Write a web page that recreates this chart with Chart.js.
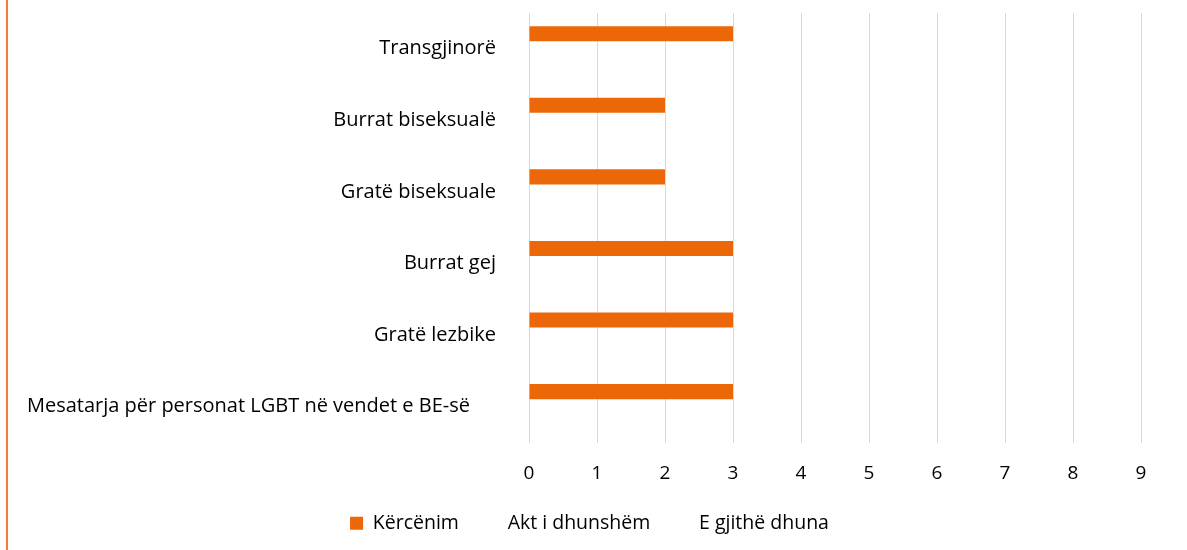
<!DOCTYPE html>
<html>
<head>
<meta charset="utf-8">
<script src="https://cdn.jsdelivr.net/npm/chart.js@4.4.0/dist/chart.umd.min.js"></script>
<style>
  html, body { margin: 0; padding: 0; background: #ffffff; }
  #wrap { position: relative; width: 1187px; height: 550px; }
  #edge { position: absolute; left: 6px; top: 0; width: 2px; height: 550px; background: #F27B3B; }
  canvas { position: absolute; left: 0; top: 0; }
</style>
</head>
<body>
<div id="wrap">
  <canvas id="c" width="1187" height="550"></canvas>
  <div id="edge"></div>
</div>
<script>
const categories = [
  "Transgjinorë",
  "Burrat biseksualë",
  "Gratë biseksuale",
  "Burrat gej",
  "Gratë lezbike",
  "Mesatarja për personat LGBT në vendet e BE-së"
];
const seriesNames = ["Kërcënim", "Akt i dhunshëm", "E gjithë dhuna"];
const kercenim = [3, 2, 2, 3, 3, 3];
const aktDhunshem = [null, null, null, null, null, null];
const gjitheDhuna = [null, null, null, null, null, null];
const xTicks = [0, 1, 2, 3, 4, 5, 6, 7, 8, 9];

const FONT = "'Open Sans', 'Noto Sans', sans-serif";
const TEXT = '#000000';
const longest = categories.reduce((a, c, i) => c.length > categories[a].length ? i : a, 0);

new Chart(document.getElementById('c'), {
  type: 'bar',
  data: {
    labels: categories,
    datasets: [
      { label: seriesNames[0], data: kercenim, backgroundColor: '#EC6707', borderWidth: 0 },
      { label: seriesNames[1], data: aktDhunshem, backgroundColor: 'rgba(0,0,0,0)', borderWidth: 0 },
      { label: seriesNames[2], data: gjitheDhuna, backgroundColor: 'rgba(0,0,0,0)', borderWidth: 0 }
    ]
  },
  options: {
    indexAxis: 'y',
    responsive: false,
    animation: false,
    categoryPercentage: 0.632,
    barPercentage: 1.0,
    layout: { padding: { left: 24, right: 32, top: 13, bottom: 7 } },
    plugins: {
      tooltip: { enabled: false },
      legend: {
        position: 'bottom',
        labels: {
          font: { family: FONT, size: 19.5 },
          color: TEXT,
          boxWidth: 13,
          boxHeight: 13,
          padding: 26
        }
      }
    },
    scales: {
      x: {
        min: 0,
        max: 9,
        afterBuildTicks: (s) => { s.ticks = xTicks.map(v => ({ value: v })); },
        afterFit: (s) => { s.height = 45; },
        grid: { color: '#D9D9D9', lineWidth: 1, drawTicks: false },
        border: { display: false },
        ticks: { font: { family: FONT, size: 19 }, color: TEXT, padding: 20 }
      },
      y: {
        grid: { display: false },
        border: { display: false },
        afterFit: (s) => { s.width = 505; s.paddingTop = 0; s.paddingBottom = 0; },
        ticks: {
          font: { family: FONT, size: 20 },
          color: TEXT,
          padding: 25,
          callback: (v, i) => i === longest ? categories[i] + '\u00a0'.repeat(5) : categories[i]
        }
      },
      yRight: {
        type: 'category',
        labels: categories,
        position: 'right',
        grid: { display: false },
        border: { display: false },
        ticks: { display: false },
        afterFit: (s) => { s.width = 14; s.paddingTop = 0; s.paddingBottom = 0; }
      }
    }
  }
});
</script>
</body>
</html>
